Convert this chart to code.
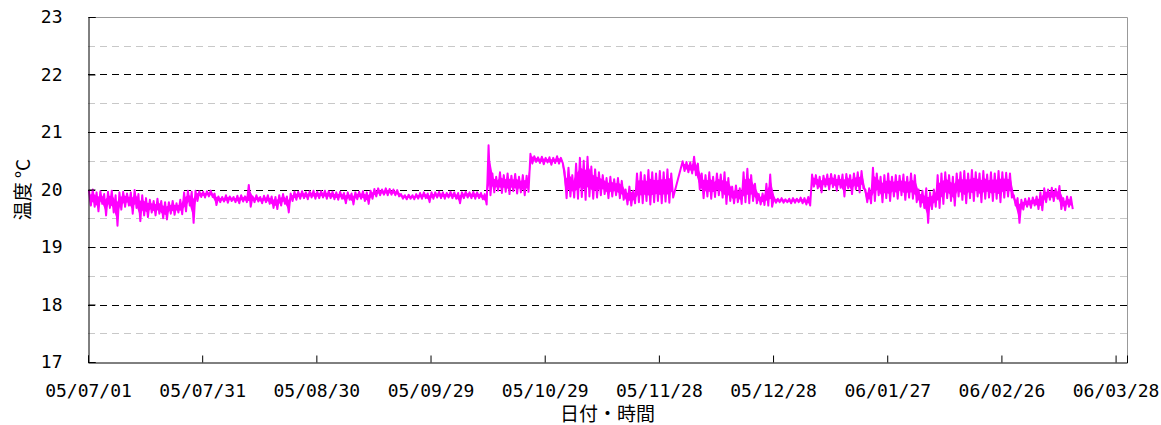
<!DOCTYPE html>
<html>
<head>
<meta charset="utf-8">
<script src="https://cdn.jsdelivr.net/npm/d3@7"></script>
<style>
  body { margin: 0; background: #fff; }
  text { font-family: 'Noto Sans CJK JP', 'Noto Sans', sans-serif; fill: #000; }
</style>
</head>
<body>
<div id="chart"></div>
<script>
// x axis tick labels (every 30 days)
const tickLabels = ['05/07/01', '05/07/31', '05/08/30', '05/09/29', '05/10/29',
  '05/11/28', '05/12/28', '06/01/27', '06/02/26', '06/03/28']
const startLabel = '05/07/01'
const endLabel = '06/03/31'
const yTicks = [17, 18, 19, 20, 21, 22, 23]
const yMinor = [17.5, 18.5, 19.5, 20.5, 21.5, 22.5]

// daily high / low of the temperature record (null = no data)
const dailyHigh = [
  19.98, 20.00, 19.95, 19.97, 19.92, 19.96, 19.98, 19.90, 19.95, 19.96,
  19.93, 19.95, 19.99, 19.92, 19.90, 19.85, 19.82, 19.80, 19.84, 19.80,
  19.78, 19.78, 19.80, 19.76, 19.82, 19.95, 19.98, 19.96, 19.98, 19.97,
  19.96, 19.97, 19.98, 19.93, 19.88, 19.87, 19.90, 19.88, 19.87, 19.89,
  19.90, 19.88, 20.08, 19.88, 19.90, 19.87, 19.89, 19.90, 19.88, 19.87,
  19.90, 19.92, 19.88, 19.93, 19.96, 19.96, 19.97, 19.95, 19.97, 19.98,
  19.96, 19.97, 19.98, 19.97, 19.96, 19.95, 19.96, 19.94, 19.95, 19.93,
  19.95, 19.96, 19.97, 19.95, 19.98, 20.01, 20.02, 20.00, 20.02, 20.01,
  20.00, 19.99, 19.92, 19.90, 19.91, 19.90, 19.92, 19.94, 19.95, 19.93,
  19.95, 19.95, 19.96, 19.95, 19.94, 19.96, 19.95, 19.94, 19.95, 19.96,
  19.95, 19.96, 19.95, 19.94, 19.92, 20.77, 20.28, 20.22, 20.30, 20.25,
  20.28, 20.24, 20.27, 20.22, 20.25, 20.24, 20.62, 20.58, 20.56, 20.57,
  20.55, 20.56, 20.55, 20.58, 20.55, 20.30, 20.38, 20.25, 20.45, 20.55,
  20.50, 20.57, 20.40, 20.35, 20.30, 20.25, 20.20, 20.22, 20.18, 20.20,
  20.15, 20.00, 20.05, 19.98, 20.28, 20.30, 20.25, 20.34, 20.30, 20.28,
  20.32, 20.30, 20.35, 20.28, null, null, 20.49, 20.48, 20.47, 20.57,
  20.45, 20.28, 20.25, 20.30, 20.22, 20.28, 20.26, 20.30, 20.20, 20.05,
  20.07, 20.02, 20.30, 20.36, 20.25, 20.10, 19.92, 19.93, 20.10, 20.26,
  19.86, 19.84, 19.85, 19.83, 19.84, 19.85, 19.84, 19.86, 19.85, 19.87,
  20.26, 20.25, 20.22, 20.24, 20.26, 20.27, 20.25, 20.24, 20.26, 20.27,
  20.25, 20.28, 20.30, 20.32, 20.00, 20.02, 20.38, 20.28, 20.22, 20.25,
  20.28, 20.22, 20.25, 20.24, 20.26, 20.22, 20.28, 20.25, 20.00, 19.98,
  20.02, 19.95, 20.00, 20.25, 20.28, 20.30, 20.25, 20.22, 20.28, 20.30,
  20.32, 20.28, 20.34, 20.30, 20.28, 20.32, 20.26, 20.30, 20.28, 20.32,
  20.30, 20.29, 20.28, 19.90, 19.85, 19.82, 19.84, 19.85, 19.86, 19.88,
  19.95, 20.02, 20.00, 20.03, 20.01, 20.06, 19.85, 19.88, 19.87
]
const dailyLow = [
  19.72, 19.70, 19.62, 19.75, 19.55, 19.68, 19.60, 19.37, 19.65, 19.70,
  19.72, 19.58, 19.68, 19.45, 19.55, 19.52, 19.60, 19.55, 19.58, 19.50,
  19.48, 19.58, 19.56, 19.60, 19.57, 19.62, 19.72, 19.42, 19.80, 19.87,
  19.86, 19.88, 19.87, 19.73, 19.78, 19.79, 19.77, 19.80, 19.78, 19.76,
  19.79, 19.78, 19.70, 19.78, 19.79, 19.76, 19.78, 19.75, 19.68, 19.66,
  19.72, 19.75, 19.60, 19.80, 19.82, 19.84, 19.85, 19.83, 19.86, 19.84,
  19.85, 19.86, 19.84, 19.85, 19.83, 19.82, 19.84, 19.76, 19.82, 19.74,
  19.83, 19.84, 19.80, 19.75, 19.84, 19.88, 19.90, 19.91, 19.90, 19.91,
  19.90, 19.88, 19.84, 19.83, 19.84, 19.83, 19.84, 19.84, 19.85, 19.78,
  19.84, 19.86, 19.85, 19.84, 19.86, 19.85, 19.84, 19.76, 19.85, 19.86,
  19.85, 19.84, 19.85, 19.83, 19.74, 19.90, 19.95, 19.98, 19.94, 19.96,
  19.92, 19.97, 19.93, 19.95, 19.90, 19.96, 20.45, 20.48, 20.46, 20.44,
  20.47, 20.43, 20.46, 20.45, 20.46, 19.85, 19.88, 19.86, 19.84, 19.87,
  19.82, 19.88, 19.84, 19.86, 19.90, 19.92, 19.85, 19.88, 19.90, 19.85,
  19.82, 19.74, 19.72, 19.76, 19.78, 19.76, 19.80, 19.74, 19.78, 19.80,
  19.76, 19.79, 19.77, 19.86, null, null, 20.32, 20.30, 20.28, 20.25,
  20.00, 19.85, 19.88, 19.84, 19.87, 19.90, 19.86, 19.75, 19.80, 19.76,
  19.78, 19.75, 19.78, 19.76, 19.80, 19.76, 19.74, 19.73, 19.72, 19.70,
  19.77, 19.78, 19.77, 19.78, 19.76, 19.77, 19.78, 19.76, 19.74, 19.72,
  20.05, 20.02, 19.95, 20.05, 20.00, 20.04, 19.98, 20.03, 19.88, 20.02,
  19.92, 20.00, 19.95, 20.02, 19.78, 19.76, 19.80, 19.90, 19.78, 19.85,
  19.80, 19.88, 19.84, 19.90, 19.82, 19.86, 19.84, 19.78, 19.70, 19.68,
  19.42, 19.66, 19.70, 19.68, 19.75, 19.85, 19.80, 19.72, 19.88, 19.82,
  19.76, 19.85, 19.80, 19.88, 19.78, 19.84, 19.86, 19.80, 19.84, 19.78,
  19.86, 19.88, 19.86, 19.72, 19.42, 19.65, 19.70, 19.68, 19.72, 19.66,
  19.64, 19.78, 19.82, 19.80, 19.84, 19.66, 19.64, 19.70, 19.66
]

let margin = { top: 17, left: 88, right: 34, bottom: 63 }

let height = 425 - margin.top - margin.bottom
let width = 1161 - margin.left - margin.right

const svg = d3
  .select('#chart')
  .append('svg')
  .attr('width', width + margin.left + margin.right)
  .attr('height', height + margin.top + margin.bottom)
  .append('g')
  .attr('transform', 'translate(' + margin.left + ',' + margin.top + ')')

const parseDate = d3.utcParse('%y/%m/%d')
const start = parseDate(startLabel)
const dayMs = 864e5

var xPositionScale = d3
  .scaleUtc()
  .domain([start, parseDate(endLabel)])
  .range([0, width])

var yPositionScale = d3
  .scaleLinear()
  .domain([17, 23])
  .range([height, 0])

// minor grid
svg
  .selectAll('.minor')
  .data(yMinor)
  .enter()
  .append('line')
  .attr('class', 'minor')
  .attr('x1', 0)
  .attr('x2', width)
  .attr('y1', d => Math.round(yPositionScale(d)) + 0.5)
  .attr('y2', d => Math.round(yPositionScale(d)) + 0.5)
  .attr('stroke', '#c8c8c8')
  .attr('stroke-dasharray', '7,5')

// major grid
svg
  .selectAll('.major')
  .data(yTicks.filter(d => d > 17 && d < 23))
  .enter()
  .append('line')
  .attr('class', 'major')
  .attr('x1', 0)
  .attr('x2', width)
  .attr('y1', d => Math.round(yPositionScale(d)) + 0.5)
  .attr('y2', d => Math.round(yPositionScale(d)) + 0.5)
  .attr('stroke', '#000')
  .attr('stroke-dasharray', '7,5')

// top and right frame
svg
  .append('path')
  .attr('d', 'M0,0.5H' + (width + 0.5) + 'V' + height)
  .attr('fill', 'none')
  .attr('stroke', '#999')

// one record per day
const days = dailyHigh.map(function(hi, i) {
  return { day: i, hi: hi, lo: dailyLow[i] }
})

// dense core of the daily range
var band = d3
  .area()
  .defined(d => d.hi !== null)
  .x(d => xPositionScale(new Date(start.getTime() + (d.day + 0.5) * dayMs)))
  .y0(d => yPositionScale(d.lo + (d.hi - d.lo) * 0.25))
  .y1(d => yPositionScale(d.hi - (d.hi - d.lo) * 0.25))

svg
  .append('path')
  .datum(days)
  .attr('d', band)
  .attr('fill', '#ff00ff')

// temperature line: each day gives its high then its low
const points = []
days.forEach(function(d) {
  if (d.hi === null) return
  points.push({ date: new Date(start.getTime() + (d.day + 0.25) * dayMs), value: d.hi })
  points.push({ date: new Date(start.getTime() + (d.day + 0.75) * dayMs), value: d.lo })
})

var line = d3
  .line()
  .x(d => xPositionScale(d.date))
  .y(d => yPositionScale(d.value))

svg
  .append('path')
  .datum(points)
  .attr('d', line)
  .attr('fill', 'none')
  .attr('stroke', '#ff00ff')
  .attr('stroke-width', 2)
  .attr('stroke-linejoin', 'round')

// axes
const xAxis = d3
  .axisBottom(xPositionScale)
  .tickValues(tickLabels.map(parseDate))
  .tickFormat(d3.utcFormat('%y/%m/%d'))
  .tickSize(-7)
  .tickPadding(22)

svg
  .append('g')
  .attr('class', 'x-axis')
  .attr('transform', 'translate(0,' + (height + 0.5) + ')')
  .call(xAxis)

const yAxis = d3
  .axisLeft(yPositionScale)
  .tickValues(yTicks)
  .tickFormat(d3.format('d'))
  .tickSize(-7)
  .tickPadding(26)

svg
  .append('g')
  .attr('class', 'y-axis')
  .attr('transform', 'translate(0.5,0)')
  .call(yAxis)

svg.selectAll('.domain').attr('stroke', '#000')
svg.selectAll('.tick line').attr('stroke', '#000')
svg
  .selectAll('.tick text')
  .style('font-size', '18px')
  .style('font-family', "'DejaVu Sans Mono', monospace")
svg.selectAll('.x-axis .tick line').attr('y1', 0)

// axis titles
svg
  .append('text')
  .attr('x', width / 2)
  .attr('y', height + 59)
  .attr('text-anchor', 'middle')
  .style('font-size', '19px')
  .text('日付・時間')

svg
  .append('text')
  .attr('transform', 'translate(' + (-58) + ',' + height / 2 + ') rotate(-90)')
  .attr('text-anchor', 'middle')
  .style('font-size', '19px')
  .text('温度 °C')
</script>
</body>
</html>
